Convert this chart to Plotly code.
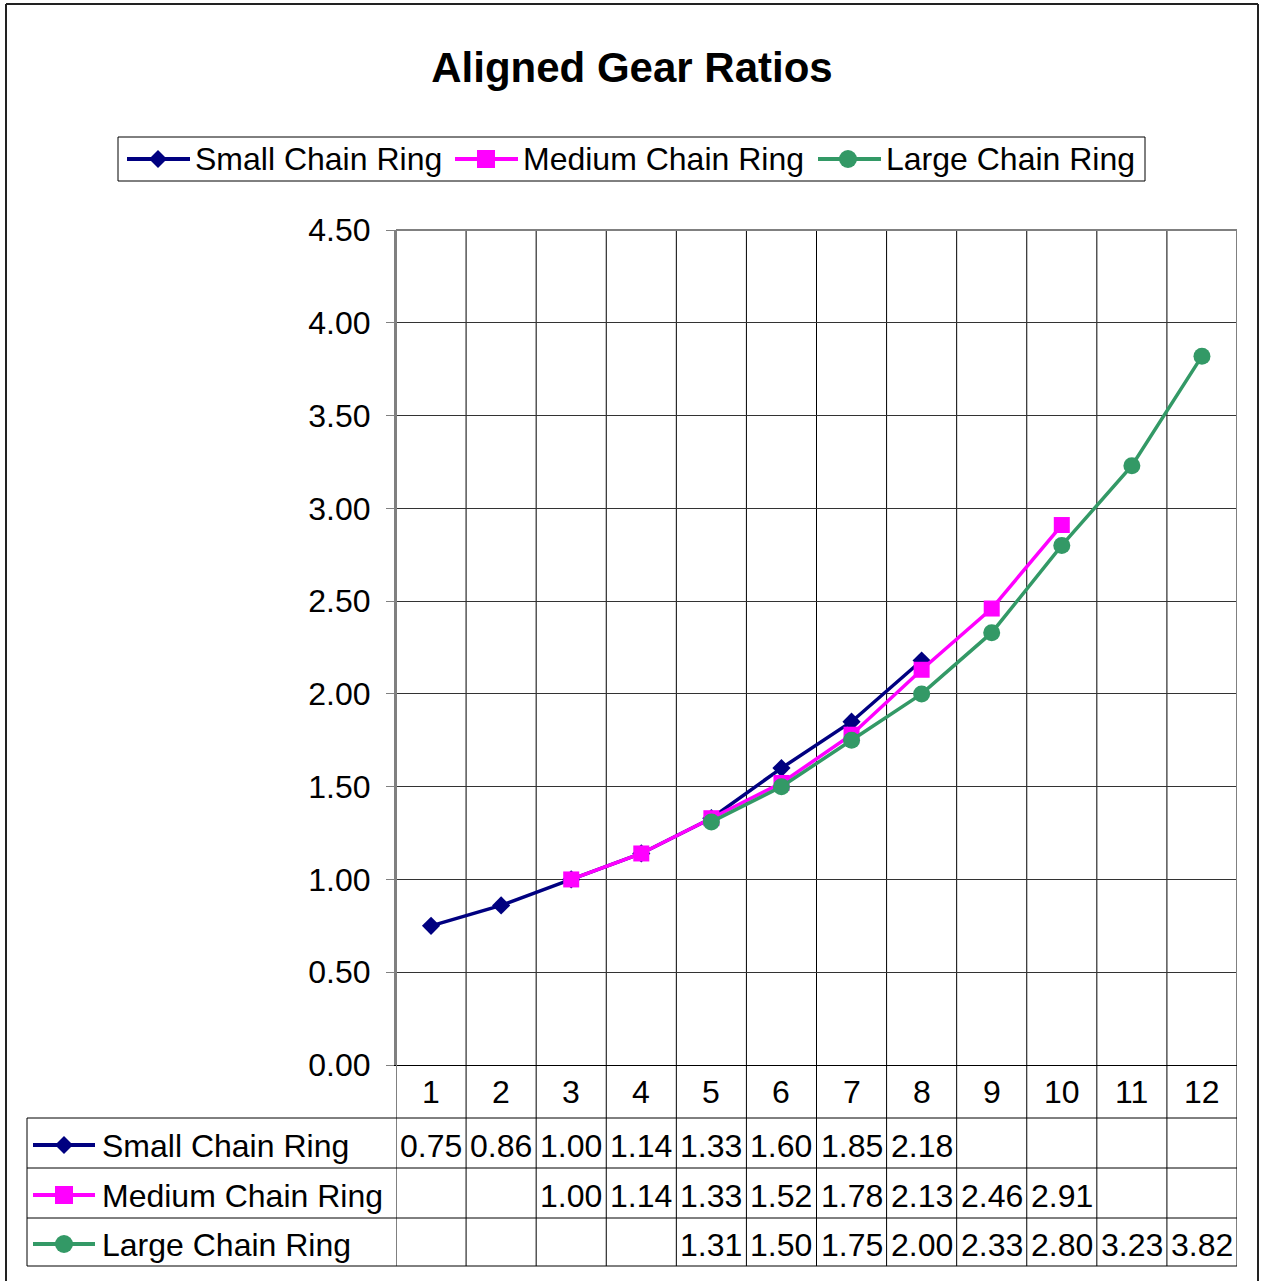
import plotly.graph_objects as go

# ---------------- data ----------------
categories = [1, 2, 3, 4, 5, 6, 7, 8, 9, 10, 11, 12]
series_names = ["Small Chain Ring", "Medium Chain Ring", "Large Chain Ring"]
small_ring = [0.75, 0.86, 1.00, 1.14, 1.33, 1.60, 1.85, 2.18, None, None, None, None]
medium_ring = [None, None, 1.00, 1.14, 1.33, 1.52, 1.78, 2.13, 2.46, 2.91, None, None]
large_ring = [None, None, None, None, 1.31, 1.50, 1.75, 2.00, 2.33, 2.80, 3.23, 3.82]
y_ticks = [0.0, 0.5, 1.0, 1.5, 2.0, 2.5, 3.0, 3.5, 4.0, 4.5]
title_text = "Aligned Gear Ratios"

# ---------------- styling ----------------
FONT = "Liberation Sans, Arial, sans-serif"
FIG_W, FIG_H = 1262, 1281
L, R, T, B = 396, 25, 230, 216
PW = FIG_W - L - R
PH = FIG_H - T - B
BOTTOM = FIG_H - B

colors = ["#000080", "#FF00FF", "#339966"]
symbols = ["diamond", "square", "circle"]
msizes = [14, 16, 17]
values = [small_ring, medium_ring, large_ring]


def px(xp):
    return (xp - L) / PW


def py(yp):
    return (BOTTOM - yp) / PH


fig = go.Figure()
for name, vals, c, s, ms in zip(series_names, values, colors, symbols, msizes):
    fig.add_trace(go.Scatter(
        x=categories, y=vals, name=name, mode="lines+markers",
        line=dict(color=c, width=3.5),
        marker=dict(symbol=s, size=ms, color=c, line=dict(width=0)),
        connectgaps=False, showlegend=False,
    ))

shapes = []
annotations = []


def hline(y, x0, x1, color="#000", width=1):
    shapes.append(dict(type="line", xref="paper", yref="paper",
                       x0=px(x0), x1=px(x1), y0=py(y), y1=py(y),
                       line=dict(color=color, width=width)))


def draw_key(i, cx, cy, x0, x1):
    c = colors[i]
    shapes.append(dict(type="line", xref="paper", yref="paper",
                       x0=px(x0), x1=px(x1), y0=py(cy), y1=py(cy),
                       line=dict(color=c, width=4)))
    common = dict(xref="paper", yref="paper", xsizemode="pixel", ysizemode="pixel",
                  xanchor=px(cx), yanchor=py(cy), fillcolor=c, line=dict(color=c, width=0))
    if symbols[i] == "diamond":
        shapes.append(dict(type="path", path="M -9,0 L 0,9 L 9,0 L 0,-9 Z", **common))
    elif symbols[i] == "square":
        shapes.append(dict(type="rect", x0=-9, x1=9, y0=-9, y1=9, **common))
    else:
        shapes.append(dict(type="circle", x0=-9, x1=9, y0=-9, y1=9, **common))


# vertical category boundaries (gridlines extending through the data table)
table_bottom = 1266
n = len(categories)
for k in range(n + 1):
    xb = categories[0] - 0.5 + k
    if k == 0:
        shapes.append(dict(type="line", xref="x", yref="paper", x0=xb, x1=xb,
                           y0=py(table_bottom), y1=1, line=dict(color="#808080", width=2), layer="above"))
    elif k == n:
        shapes.append(dict(type="line", xref="x", yref="paper", x0=xb, x1=xb,
                           y0=0, y1=1, line=dict(color="#808080", width=2), layer="above"))
        shapes.append(dict(type="line", xref="x", yref="paper", x0=xb, x1=xb,
                           y0=py(table_bottom), y1=0, line=dict(color="#000", width=1)))
    else:
        shapes.append(dict(type="line", xref="x", yref="paper", x0=xb, x1=xb,
                           y0=py(table_bottom), y1=1, line=dict(color="#000", width=1), layer="below"))

# top border of plot area
shapes.append(dict(type="line", xref="paper", yref="paper", x0=0, x1=1, y0=1, y1=1,
                   line=dict(color="#808080", width=2)))

# data table row lines
row_lines = [1118, 1168, 1218, 1266]
for yl in row_lines:
    hline(yl, 27, 1237)
shapes.append(dict(type="line", xref="paper", yref="paper", x0=px(27), x1=px(27),
                   y0=py(1266), y1=py(1118), line=dict(color="#000", width=1)))

# outer chart border
shapes.append(dict(type="line", xref="paper", yref="paper", x0=px(6), x1=px(6),
                   y0=py(1290), y1=py(4), line=dict(color="#222", width=2)))
shapes.append(dict(type="line", xref="paper", yref="paper", x0=px(6), x1=px(1258),
                   y0=py(4), y1=py(4), line=dict(color="#222", width=2)))
shapes.append(dict(type="line", xref="paper", yref="paper", x0=px(1258), x1=px(1258),
                   y0=py(1290), y1=py(4), line=dict(color="#222", width=2)))

# legend box
shapes.append(dict(type="rect", xref="paper", yref="paper", x0=px(118), x1=px(1145),
                   y0=py(181), y1=py(137), line=dict(color="#000", width=1)))
leg_y = 159
leg_pos = [(127, 190, 158, 193), (455, 518, 486, 521), (818, 881, 848, 884)]
for i, (x0, x1, cx, tx) in enumerate(leg_pos):
    draw_key(i, cx, leg_y, x0, x1)
    annotations.append(dict(text=series_names[i], xref="paper", yref="paper",
                            x=px(tx), y=py(leg_y), xanchor="left", yanchor="middle",
                            showarrow=False, font=dict(family=FONT, size=32, color="#000")))

# table header (categories)
for c in categories:
    annotations.append(dict(text=str(c), xref="x", yref="paper", x=c, y=py(1092),
                            xanchor="center", yanchor="middle", showarrow=False,
                            font=dict(family=FONT, size=32, color="#000")))

# table rows
row_centers = [1146, 1196, 1245]
for i, (name, vals) in enumerate(zip(series_names, values)):
    cy = row_centers[i]
    draw_key(i, 64, cy - 1, 33, 95)
    annotations.append(dict(text=name, xref="paper", yref="paper", x=px(100), y=py(cy),
                            xanchor="left", yanchor="middle", showarrow=False,
                            font=dict(family=FONT, size=32, color="#000")))
    for c, v in zip(categories, vals):
        if v is None:
            continue
        annotations.append(dict(text=f"{v:.2f}", xref="x", yref="paper", x=c, y=py(cy),
                                xanchor="center", yanchor="middle", showarrow=False,
                                font=dict(family=FONT, size=32, color="#000")))

fig.update_layout(
    width=FIG_W, height=FIG_H,
    margin=dict(l=L, r=R, t=T, b=B, pad=0),
    paper_bgcolor="white", plot_bgcolor="white",
    font=dict(family=FONT, size=32, color="#000"),
    title=dict(text=title_text, x=632 / FIG_W, xref="container", xanchor="center",
               y=1 - 67 / FIG_H, yref="container", yanchor="middle",
               font=dict(family=FONT, size=42, color="#000", weight="bold")),
    shapes=shapes, annotations=annotations,
    showlegend=False,
    xaxis=dict(range=[categories[0] - 0.5, categories[-1] + 0.5], showgrid=False,
               zeroline=False, showticklabels=False, ticks="",
               showline=True, linecolor="#000", linewidth=1, mirror=False, fixedrange=True),
    yaxis=dict(range=[y_ticks[0], y_ticks[-1]], tickvals=y_ticks, tickformat=".2f",
               showgrid=True, gridcolor="#333", gridwidth=1, zeroline=False,
               ticks="outside", ticklen=8, tickcolor="#808080", tickwidth=1,
               ticklabelstandoff=9,
               showline=True, linecolor="#808080", linewidth=2, mirror=False,
               tickfont=dict(family=FONT, size=32, color="#000"), fixedrange=True),
)

fig.write_html("out.html", config={"displayModeBar": False},
               post_script="document.body.style.margin='0';document.body.style.overflow='hidden';")
